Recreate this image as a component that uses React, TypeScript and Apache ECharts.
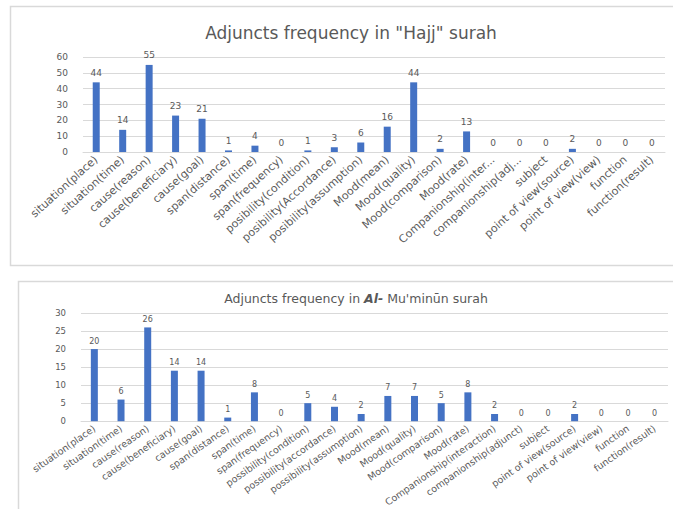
import React, { useEffect, useRef } from "react";
import * as echarts from "echarts";

const hajjCategories = [
  "situation(place)", "situation(time)", "cause(reason)", "cause(beneficiary)", "cause(goal)",
  "span(distance)", "span(time)", "span(frequency)", "posibility(condition)", "posibility(Accordance)",
  "posibility(assumption)", "Mood(mean)", "Mood(quality)", "Mood(comparison)", "Mood(rate)",
  "Companionship(inter...", "companionship(adj...", "subject", "point of view(source)",
  "point of view(view)", "function", "function(result)",
];
const hajjValues = [44, 14, 55, 23, 21, 1, 4, 0, 1, 3, 6, 16, 44, 2, 13, 0, 0, 0, 2, 0, 0, 0];

const muminunCategories = [
  "situation(place)", "situation(time)", "cause(reason)", "cause(beneficiary)", "cause(goal)",
  "span(distance)", "span(time)", "span(frequency)", "possibility(condition)", "possibility(accordance)",
  "possibility(assumption)", "Mood(mean)", "Mood(quality)", "Mood(comparison)", "Mood(rate)",
  "Companionship(interaction)", "companionship(adjunct)", "subject", "point of view(source)",
  "point of view(view)", "function", "function(result)",
];
const muminunValues = [20, 6, 26, 14, 14, 1, 8, 0, 5, 4, 2, 7, 7, 5, 8, 2, 0, 0, 2, 0, 0, 0];

const BAR = "#4472C4";
const TXT = "#595959";
const GRID = "#d9d9d9";
const FONT = "'DejaVu Sans', Verdana, sans-serif";

export default function App() {
  const ref = useRef<HTMLDivElement>(null);
  useEffect(() => {
    if (!ref.current) return;
    const chart = echarts.init(ref.current, null, { renderer: "svg" });
    chart.setOption({
      animation: false,
      backgroundColor: "#ffffff",
      textStyle: { fontFamily: FONT },
      graphic: [
        { type: "rect", shape: { x: 10.5, y: 6.5, width: 700, height: 259 }, style: { fill: "none", stroke: GRID, lineWidth: 1.5 }, silent: true },
        { type: "rect", shape: { x: 18.5, y: 281.5, width: 700, height: 300 }, style: { fill: "none", stroke: GRID, lineWidth: 1.5 }, silent: true },
      ],
      title: [
        {
          text: 'Adjuncts frequency in "Hajj" surah',
          left: 346, top: 19, textAlign: "center",
          textStyle: { fontSize: 17, fontWeight: "normal", color: TXT, fontFamily: FONT },
        },
        {
          text: "Adjuncts frequency in {i|Al-} Mu'minūn surah",
          left: 351, top: 287, textAlign: "center",
          textStyle: {
            fontSize: 12.5, fontWeight: "normal", color: TXT, fontFamily: FONT,
            rich: { i: { fontSize: 12.5, fontStyle: "italic", fontWeight: "bold", color: TXT, fontFamily: FONT } },
          },
        },
      ],
      grid: [
        { left: 83, right: 8, top: 57, height: 95, containLabel: false },
        { left: 81, right: 5, top: 313, height: 110, containLabel: false },
      ],
      xAxis: [
        {
          type: "category", gridIndex: 0, data: hajjCategories,
          axisLine: { lineStyle: { color: GRID } }, axisTick: { show: false },
          axisLabel: { rotate: 42, interval: 0, fontSize: 11, color: TXT, margin: 6 },
        },
        {
          type: "category", gridIndex: 1, data: muminunCategories,
          axisLine: { lineStyle: { color: GRID } }, axisTick: { show: false },
          axisLabel: { rotate: 35, interval: 0, fontSize: 9.5, color: TXT, margin: 6 },
        },
      ],
      yAxis: [
        {
          type: "value", gridIndex: 0, min: 0, max: 60, interval: 10,
          axisLine: { show: false }, axisTick: { show: false },
          splitLine: { lineStyle: { color: GRID } },
          axisLabel: { fontSize: 9, color: TXT, margin: 15 },
        },
        {
          type: "value", gridIndex: 1, min: 0, max: 30, interval: 5,
          axisLine: { show: false }, axisTick: { show: false },
          splitLine: { lineStyle: { color: GRID } },
          axisLabel: { fontSize: 8.5, color: TXT, margin: 15 },
        },
      ],
      series: [
        {
          type: "bar", xAxisIndex: 0, yAxisIndex: 0, data: hajjValues, barWidth: 7,
          itemStyle: { color: BAR },
          label: { show: true, position: "top", distance: 5, fontSize: 9, color: TXT },
        },
        {
          type: "bar", xAxisIndex: 1, yAxisIndex: 1, data: muminunValues, barWidth: 7,
          itemStyle: { color: BAR },
          label: { show: true, position: "top", distance: 4, fontSize: 8, color: TXT },
        },
      ],
    });
    return () => chart.dispose();
  }, []);
  return (
    <div
      ref={ref}
      style={{ position: "fixed", left: 0, top: 0, width: 673, height: 509 }}
    />
  );
}
